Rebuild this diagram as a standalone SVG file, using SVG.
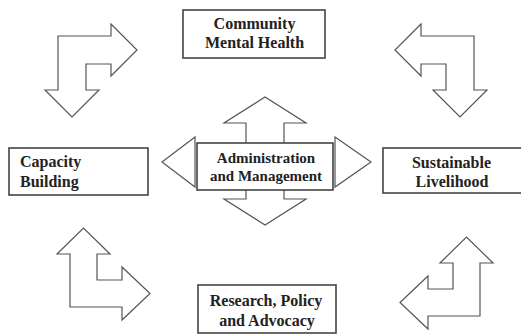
<svg xmlns="http://www.w3.org/2000/svg" width="521" height="334" viewBox="0 0 521 334">
<style>
.arrow{fill:#fff;stroke:#555;stroke-width:1.2;stroke-linejoin:miter}
.box{fill:#fff;stroke:#444;stroke-width:1.6}
.lbl{font-family:"Liberation Serif","Times New Roman",serif;font-weight:bold;font-size:16px;fill:#222}
.sm{font-size:15px}
.c{text-anchor:middle}
</style>
<rect width="521" height="334" fill="#fff"/>
<g id="connectors">
<polygon class="arrow" points="58,36 111,36 111,24 137,50 111,76 111,64 86,64 86,90 99,90 72,117 45,90 58,90"/>
<polygon class="arrow" points="474,36 421,36 421,24 395,50 421,76 421,64 446,64 446,90 433,90 460,117 487,90 474,90"/>
<polygon class="arrow" points="70,307 70,254 57,254 83.5,228 110,254 97,254 97,280 122,280 122,267 150,293.5 122,320 122,307"/>
<polygon class="arrow" points="480,316 480,263 493,263 466.5,237 440,263 453,263 453,289 428,289 428,276 400,302.5 428,329 428,316"/>
<polygon class="arrow" points="246,145 246,123 224,123 265,97 306,123 284,123 284,145"/>
<polygon class="arrow" points="246,188 246,199 224,199 265,225 306,199 284,199 284,188"/>
<polygon class="arrow" points="195,137 162,162 195,187"/>
<polygon class="arrow" points="335,137 371,162 335,187"/>
</g>
<g id="community-mental-health">
<rect class="box" x="183" y="10" width="142" height="48"/>
<text class="lbl c" x="254.5" y="29">Community</text>
<text class="lbl c" x="254.5" y="48">Mental Health</text>
</g>
<g id="administration-and-management">
<rect class="box" x="197" y="143" width="136" height="47"/>
<text class="lbl sm c" x="266" y="163">Administration</text>
<text class="lbl sm c" x="266" y="181">and Management</text>
</g>
<g id="capacity-building">
<rect class="box" x="9" y="148" width="139" height="47"/>
<text class="lbl" x="20" y="167">Capacity</text>
<text class="lbl" x="20" y="187">Building</text>
</g>
<g id="sustainable-livelihood">
<rect class="box" x="383" y="148" width="140" height="45"/>
<text class="lbl c" x="451.5" y="168">Sustainable</text>
<text class="lbl c" x="452" y="187">Livelihood</text>
</g>
<g id="research-policy-advocacy">
<rect class="box" x="198" y="285" width="138" height="48"/>
<text class="lbl c" x="266" y="306">Research, Policy</text>
<text class="lbl c" x="267" y="326">and Advocacy</text>
</g>
</svg>
